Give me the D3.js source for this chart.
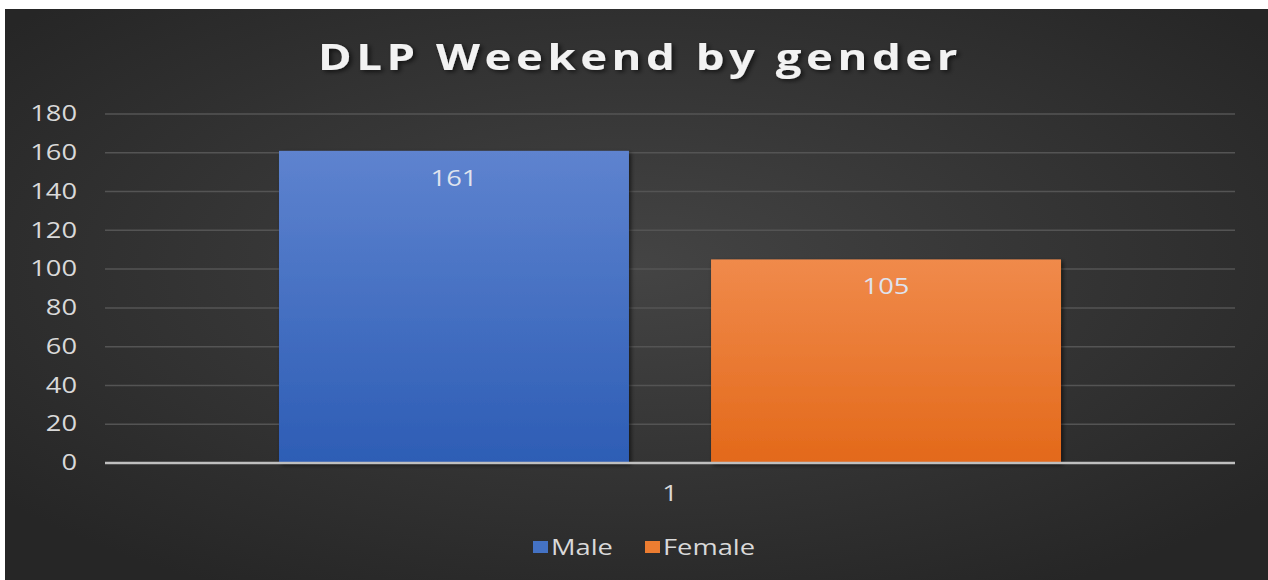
<!DOCTYPE html>
<html>
<head>
<meta charset="utf-8">
<script src="https://cdn.jsdelivr.net/npm/d3@7"></script>
<style>
  body { margin: 0; background: #fff; }
  svg { display: block; }
</style>
</head>
<body>
<svg id="chart" width="1268" height="580"></svg>
<script>
// data
var categories = ['1'];
var seriesNames = ['Male', 'Female'];
var seriesValues = [161, 105];
var yTicks = [0, 20, 40, 60, 80, 100, 120, 140, 160, 180];
var title = 'DLP Weekend by gender';

var W = 1268, H = 580;
var SX = 1.3; // the picture is stretched sideways, text too
var FONT = '"Open Sans", sans-serif';
var svg = d3.select('#chart');
var defs = svg.append('defs');

// background gradient
var bg = defs.append('radialGradient').attr('id', 'bg')
    .attr('cx', '50%').attr('cy', '45%').attr('r', '65%');
bg.append('stop').attr('offset', '0%').attr('stop-color', '#444444');
bg.append('stop').attr('offset', '100%').attr('stop-color', '#262626');

var barGrads = [['#5e83cf', '#2d5db5'], ['#f08a4b', '#e3691a']];
barGrads.forEach(function(c, i) {
    var g = defs.append('linearGradient').attr('id', 'bar' + i)
        .attr('x1', 0).attr('y1', 0).attr('x2', 0).attr('y2', 1);
    g.append('stop').attr('offset', '0%').attr('stop-color', c[0]);
    g.append('stop').attr('offset', '100%').attr('stop-color', c[1]);
});
var filt = defs.append('filter').attr('id', 'shadow')
    .attr('x', '-10%').attr('y', '-10%').attr('width', '130%').attr('height', '130%');
filt.append('feDropShadow').attr('dx', 2).attr('dy', 2).attr('stdDeviation', 2)
    .attr('flood-color', '#000').attr('flood-opacity', 0.6);

svg.append('rect').attr('x', 5).attr('y', 9).attr('width', W - 5).attr('height', H - 9)
    .attr('fill', 'url(#bg)');

var margin = {left: 105, right: 33, top: 114, bottom: 117};
var x0 = d3.scaleBand().domain(categories)
    .range([margin.left, W - margin.right]).paddingOuter(0.2225).paddingInner(0);
var x1 = d3.scaleBand().domain(seriesNames)
    .range([0, x0.bandwidth()]).paddingInner(0.19);
var y = d3.scaleLinear().domain([0, 180]).range([H - margin.bottom, margin.top]);

// place a text with sideways stretch
function stretched(sel, x, yy) {
    return sel.attr('transform', 'translate(' + x + ',' + yy + ') scale(' + SX + ',1)');
}

// gridlines
svg.append('g').selectAll('line').data(yTicks.slice(1)).enter().append('line')
    .attr('x1', margin.left).attr('x2', W - margin.right)
    .attr('y1', function(d) { return y(d); }).attr('y2', function(d) { return y(d); })
    .attr('stroke', '#545454').attr('stroke-width', 1.5);

// y axis labels
var yAxis = d3.axisLeft(y).tickValues(yTicks).tickSize(0).tickPadding(0);
var ya = svg.append('g').attr('transform', 'translate(77,0)').call(yAxis);
ya.select('.domain').remove();
ya.selectAll('text').attr('fill', '#d9d9d9').attr('x', 0)
    .attr('transform', 'scale(' + SX + ',1)')
    .style('font-family', FONT).style('font-size', '21px');

// bars
var grp = svg.append('g').selectAll('g').data(categories).enter().append('g')
    .attr('transform', function(d) { return 'translate(' + x0(d) + ',0)'; });
grp.selectAll('rect').data(seriesNames).enter().append('rect')
    .attr('x', function(d) { return x1(d); })
    .attr('y', function(d, i) { return y(seriesValues[i]); })
    .attr('width', x1.bandwidth())
    .attr('height', function(d, i) { return y(0) - y(seriesValues[i]); })
    .attr('fill', function(d, i) { return 'url(#bar' + i + ')'; })
    .attr('filter', 'url(#shadow)');
grp.selectAll('text').data(seriesNames).enter().append('text')
    .each(function(d, i) {
        stretched(d3.select(this), x1(d) + x1.bandwidth() / 2, y(seriesValues[i]) + 35);
    })
    .attr('text-anchor', 'middle')
    .attr('fill', '#dfe3ee')
    .style('font-family', FONT).style('font-size', '21px')
    .text(function(d, i) { return seriesValues[i]; });

// x axis line
svg.append('line').attr('x1', margin.left).attr('x2', W - margin.right)
    .attr('y1', y(0)).attr('y2', y(0))
    .attr('stroke', '#bfbfbf').attr('stroke-width', 2.5);

// x axis labels
var xAxis = d3.axisBottom(x0).tickSize(0).tickPadding(0);
var xa = svg.append('g').attr('transform', 'translate(0,' + (y(0) + 38) + ')').call(xAxis);
xa.select('.domain').remove();
xa.selectAll('text').attr('fill', '#d9d9d9').attr('y', 0).attr('dy', 0)
    .attr('transform', 'scale(' + SX + ',1)')
    .style('font-family', FONT).style('font-size', '21px');

// title
stretched(svg.append('text'), 640, 70).attr('text-anchor', 'middle')
    .attr('fill', '#f2f2f2').attr('filter', 'url(#shadow)')
    .style('font-family', FONT).style('font-size', '35px')
    .style('font-weight', 'bold').style('letter-spacing', '3.5px')
    .text(title);

// legend
var legendColors = ['#4472c4', '#ed7d31'];
var legendX = [533, 645];
var lg = svg.append('g').selectAll('g').data(seriesNames).enter().append('g')
    .attr('transform', function(d, i) { return 'translate(' + legendX[i] + ',547)'; });
lg.append('rect').attr('x', 0).attr('y', -6).attr('width', 15).attr('height', 12)
    .attr('fill', function(d, i) { return legendColors[i]; });
lg.append('text').each(function() { stretched(d3.select(this), 18, 7.5); })
    .attr('fill', '#d9d9d9')
    .style('font-family', FONT).style('font-size', '21px')
    .text(function(d) { return d; });
</script>
</body>
</html>
